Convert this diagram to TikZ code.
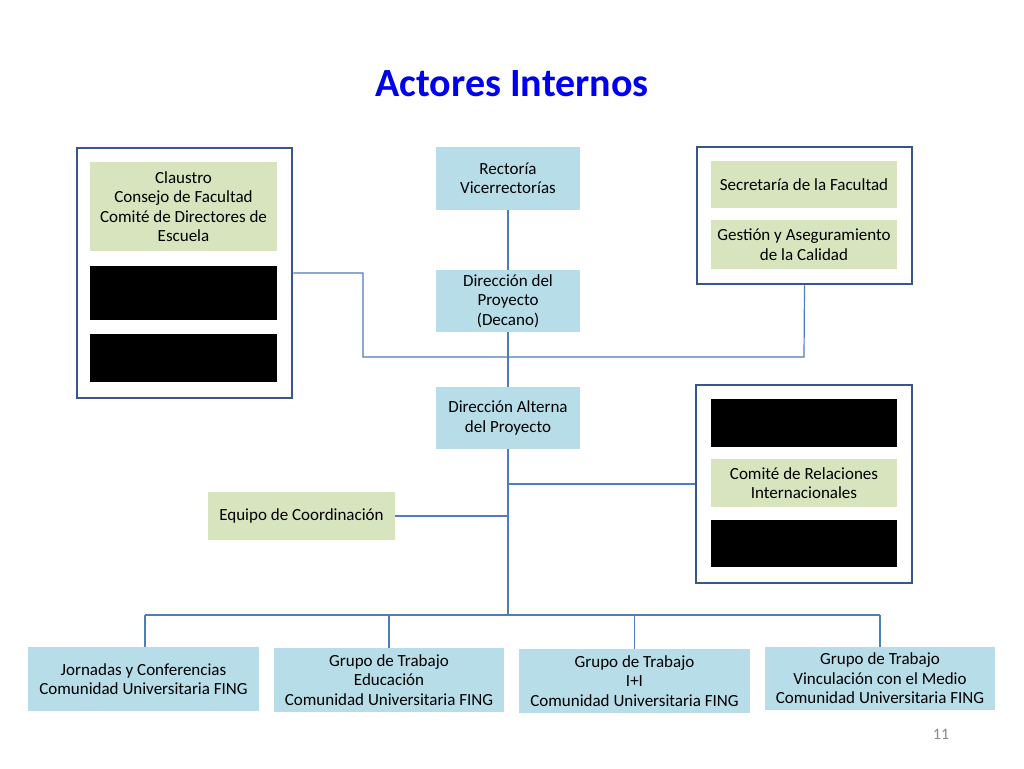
\documentclass[tikz,border=0pt]{standalone}
\usepackage{fontspec}
\setmainfont{Carlito}
\definecolor{lblue}{RGB}{183,221,232}
\definecolor{lgreen}{RGB}{215,228,189}
\definecolor{frameblue}{RGB}{56,86,135}
\definecolor{lineblue}{RGB}{79,125,185}
\definecolor{titleblue}{RGB}{0,0,240}
\definecolor{pgray}{RGB}{137,137,137}
\begin{document}
\begin{tikzpicture}[x=1pt,y=-1pt,
  box/.style={inner sep=0pt, align=center, font=\fontsize{17}{19.5}\selectfont, text=black},
  bluebox/.style={box, fill=lblue},
  greenbox/.style={box, fill=lgreen},
  blackbox/.style={box, fill=black},
  frame/.style={draw=frameblue, line width=2.8pt, fill=white, inner sep=0pt},
  conn/.style={draw=lineblue, line width=1.2pt}]
\useasboundingbox (0,0) rectangle (1024,768);

\node[font=\fontsize{40}{48}\selectfont\bfseries, text=titleblue] (title) at (512,84) {Actores Internos};

% outer frames
\node[frame, minimum width=215, minimum height=250] (lbox) at (184.5,273) {};
\node[frame, minimum width=215, minimum height=137] (rtbox) at (804.5,215.5) {};
\node[frame, minimum width=216, minimum height=198] (rmbox) at (804,484) {};

% left frame content
\node[greenbox, minimum width=187, minimum height=89] (claustro) at (183.5,206.5) {Claustro\\Consejo de Facultad\\Comité de Directores de\\Escuela};
\node[blackbox, minimum width=187, minimum height=54] (blk1) at (183.5,293) {};
\node[blackbox, minimum width=187, minimum height=48] (blk2) at (183.5,358) {};

% right top frame content
\node[greenbox, minimum width=186, minimum height=47] (secre) at (804,184.5) {Secretaría de la Facultad};
\node[greenbox, minimum width=186, minimum height=49] (gestion) at (804,244.5) {Gestión y Aseguramiento\\de la Calidad};

% right middle frame content
\node[blackbox, minimum width=186, minimum height=48] (blk3) at (804,423) {};
\node[greenbox, minimum width=186, minimum height=48] (cri) at (804,483) {Comité de Relaciones\\Internacionales};
\node[blackbox, minimum width=186, minimum height=47] (blk4) at (804,543.5) {};

% centre column
\node[bluebox, minimum width=144, minimum height=63] (rect) at (508,178.5) {Rectoría\\Vicerrectorías};
\node[bluebox, minimum width=144, minimum height=62] (dp) at (508,301) {Dirección del\\Proyecto\\(Decano)};
\node[bluebox, minimum width=144, minimum height=62] (dal) at (508,418) {Dirección Alterna\\del Proyecto};

\node[greenbox, minimum width=187, minimum height=48] (equipo) at (301.5,516) {Equipo de Coordinación};

% bottom row
\node[bluebox, minimum width=231, minimum height=64] (b1) at (143.5,679) {Jornadas y Conferencias\\Comunidad Universitaria FING};
\node[bluebox, minimum width=230, minimum height=64] (b2) at (389,680) {Grupo de Trabajo\\Educación\\Comunidad Universitaria FING};
\node[bluebox, minimum width=231, minimum height=64] (b3) at (634.5,681) {Grupo de Trabajo\\I+I\\Comunidad Universitaria FING};
\node[bluebox, minimum width=230, minimum height=63] (b4) at (880,678.5) {Grupo de Trabajo\\Vinculación con el Medio\\Comunidad Universitaria FING};

\node[font=\fontsize{16}{18}\selectfont, text=pgray] (pnum) at (941,734) {11};

% connectors
\coordinate (hl) at (363,357);
\coordinate (hr) at (804,357);
\coordinate (bus) at (508,615);
\coordinate (busl) at (145,615);
\coordinate (busr) at (880,615);

\draw[conn] (rect.south) -- (dp.north);
\draw[conn] (dp.south) -- (dal.north);
\draw[conn] (dal.south) -- (bus);
\draw[conn] (lbox.east) -| (hl) -- (hr) -- (rtbox.south);
\draw[conn] (rmbox.west) -- (rmbox.west -| dal.south);
\draw[conn] (equipo.east) -- (equipo.east -| dal.south);
\draw[conn] (busl) -- (busr);
\draw[conn] (b1.north -| busl) -- (busl);
\draw[conn] (b2.north) -- (b2.north |- bus);
\draw[conn] (b3.north) -- (b3.north |- bus);
\draw[conn] (b4.north -| busr) -- (busr);
\end{tikzpicture}
\end{document}
